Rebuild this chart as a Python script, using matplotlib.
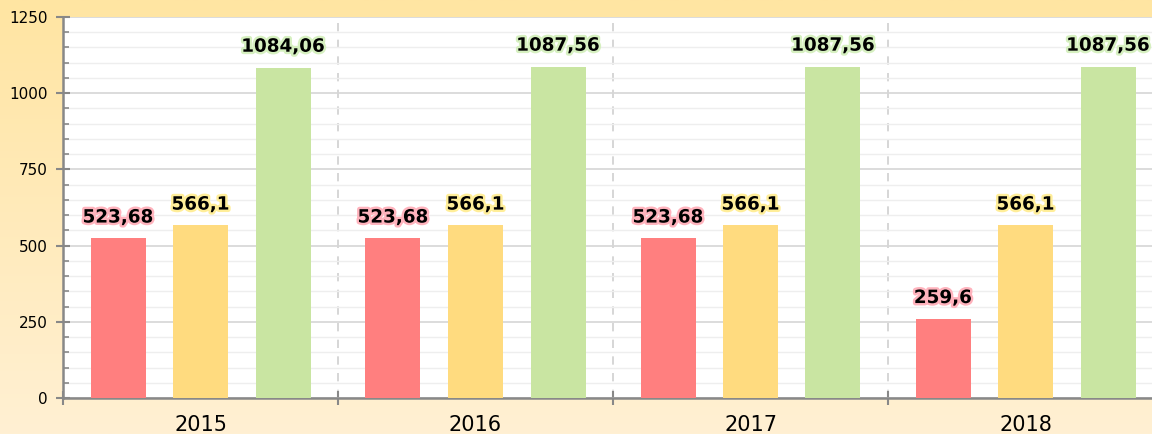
import matplotlib.pyplot as plt
import matplotlib.patheffects as pe
import numpy as np
from matplotlib.colors import LinearSegmentedColormap

# Data
years = ["2015", "2016", "2017", "2018"]
series_red = [523.68, 523.68, 523.68, 259.6]
series_yellow = [566.1, 566.1, 566.1, 566.1]
series_green = [1084.06, 1087.56, 1087.56, 1087.56]
labels_red = ["523,68", "523,68", "523,68", "259,6"]
labels_yellow = ["566,1", "566,1", "566,1", "566,1"]
labels_green = ["1084,06", "1087,56", "1087,56", "1087,56"]

W, H = 1152, 434
fig = plt.figure(figsize=(W / 100, H / 100), dpi=100)

# background gradient
bg = fig.add_axes([0, 0, 1, 1], zorder=-1)
cmap = LinearSegmentedColormap.from_list("bg", ["#fff0d3", "#ffe5a2"])
grad = np.linspace(0, 1, 256).reshape(-1, 1)
bg.imshow(grad, aspect="auto", cmap=cmap, origin="lower", extent=[0, 1, 0, 1])
bg.axis("off")

ax = fig.add_axes([63 / W, 36 / H, 1100 / W, 381 / H])
ax.set_facecolor("white")

x = np.arange(len(years)) + 0.5
bw = 0.2
ax.bar(x - 0.3, series_red, bw, color="#ff7f7f", zorder=3)
ax.bar(x, series_yellow, bw, color="#ffdb7f", zorder=3)
ax.bar(x + 0.3, series_green, bw, color="#c9e5a2", zorder=3)

def put_labels(xs, vals, texts, glow):
    for xi, v, t in zip(xs, vals, texts):
        ax.text(xi, v + 52, t, ha="center", va="baseline", fontsize=13.2,
                fontweight="bold", color="black", zorder=5,
                path_effects=[pe.withStroke(linewidth=3.5, foreground=glow)])

put_labels(x - 0.3, series_red, labels_red, "#ffb3bd")
put_labels(x, series_yellow, labels_yellow, "#ffee99")
put_labels(x + 0.3, series_green, labels_green, "#d6f0c0")

ax.set_xlim(0, 4)
ax.set_ylim(0, 1250)

# grid
ax.set_yticks(np.arange(0, 1251, 250))
ax.set_yticks(np.arange(0, 1251, 50), minor=True)
ax.yaxis.grid(True, which="major", color="#d6d6d6", linewidth=1.2, zorder=0)
ax.yaxis.grid(True, which="minor", color="#eeeeee", linewidth=1, zorder=0)
for b in [1, 2, 3]:
    ax.axvline(b, color="#d0d0d0", linestyle=(0, (5, 5)), linewidth=1.2, zorder=1)

ax.set_xticks([0, 1, 2, 3, 4])
ax.set_xticklabels([])
ax.set_xticks(x, minor=True)
ax.set_xticklabels(years, minor=True, fontsize=15)
ax.tick_params(axis="x", which="major", direction="inout", length=10, width=1.5, color="#888888")
ax.tick_params(axis="x", which="minor", length=0, pad=12)
ax.tick_params(axis="y", which="major", direction="inout", length=10, width=1.5, color="#888888", labelsize=11, pad=6)
ax.tick_params(axis="y", which="minor", direction="in", length=4, width=1.2, color="#888888")

for s in ["top", "right"]:
    ax.spines[s].set_visible(False)
for s in ["left", "bottom"]:
    ax.spines[s].set_color("#888888")
    ax.spines[s].set_linewidth(1.8)

fig.savefig("out.png", dpi=100)
